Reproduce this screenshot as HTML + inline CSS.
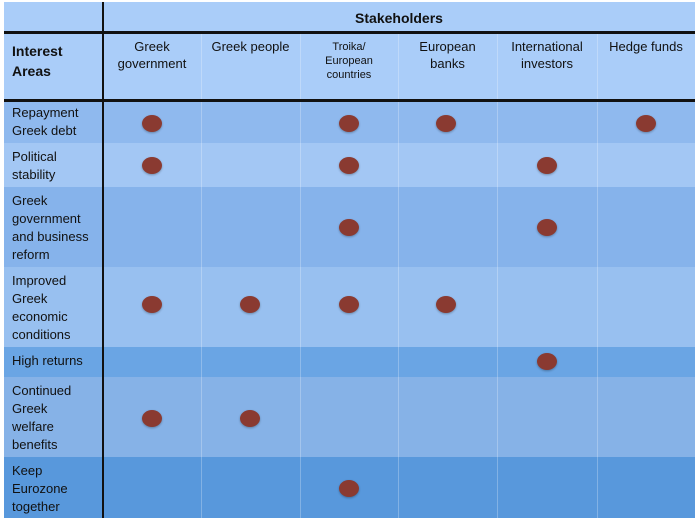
<!DOCTYPE html>
<html><head><meta charset="utf-8"><style>
body{margin:0;width:700px;height:525px;background:#fff;position:relative;overflow:hidden;font-family:"Liberation Sans",sans-serif;color:#111}
.r{position:absolute;left:4px;width:691px}
.t{position:absolute;font-size:13px;line-height:18px}
.h{position:absolute;font-size:13px;line-height:17px;text-align:center;top:38px}
.d{position:absolute;width:20px;height:17px;border-radius:50%;background:#8a3a31;box-shadow:0 1px 2px rgba(0,0,0,.3)}
.vl{position:absolute;top:32px;width:1px;height:486px;background:rgba(255,255,255,.25)}
</style></head><body>
<div class="r" style="top:2px;height:99px;background:#aacdf9"></div>
<div class="r" style="top:101px;height:42px;background:#8fb9ee"></div>
<div class="r" style="top:143px;height:44px;background:#a3c7f4"></div>
<div class="r" style="top:187px;height:80px;background:#86b3eb"></div>
<div class="r" style="top:267px;height:80px;background:#98c0f0"></div>
<div class="r" style="top:347px;height:30px;background:#6aa5e4"></div>
<div class="r" style="top:377px;height:80px;background:#86b2e7"></div>
<div class="r" style="top:457px;height:61px;background:#5898dc"></div>
<div class="vl" style="left:201px"></div><div class="vl" style="left:300px"></div><div class="vl" style="left:398px"></div><div class="vl" style="left:497px"></div><div class="vl" style="left:597px"></div>
<div style="position:absolute;left:4px;top:31px;width:691px;height:3px;background:#111"></div>
<div style="position:absolute;left:4px;top:99px;width:691px;height:3px;background:#111"></div>
<div style="position:absolute;left:102px;top:2px;width:2px;height:516px;background:#111"></div>
<div class="t" style="left:103px;width:592px;text-align:center;top:9px;font-size:14px;font-weight:bold">Stakeholders</div>
<div class="t" style="left:12px;top:41px;font-size:14px;line-height:20px;font-weight:bold">Interest<br>Areas</div>
<div class="h" style="left:103px;width:98px">Greek<br>government</div>
<div class="h" style="left:201px;width:99px">Greek people</div>
<div class="h" style="left:300px;width:98px;font-size:11px;line-height:14px;top:40px">Troika/<br>European<br>countries</div>
<div class="h" style="left:398px;width:99px">European<br>banks</div>
<div class="h" style="left:497px;width:100px">International<br>investors</div>
<div class="h" style="left:597px;width:98px">Hedge funds</div>
<div class="t" style="left:12px;top:104px">Repayment<br>Greek debt</div>
<div class="t" style="left:12px;top:148px">Political<br>stability</div>
<div class="t" style="left:12px;top:192px">Greek<br>government<br>and business<br>reform</div>
<div class="t" style="left:12px;top:272px">Improved<br>Greek<br>economic<br>conditions</div>
<div class="t" style="left:12px;top:352px">High returns</div>
<div class="t" style="left:12px;top:382px">Continued<br>Greek<br>welfare<br>benefits</div>
<div class="t" style="left:12px;top:462px">Keep<br>Eurozone<br>together</div>
<div class="d" style="left:142px;top:115px"></div><div class="d" style="left:339px;top:115px"></div><div class="d" style="left:436px;top:115px"></div><div class="d" style="left:636px;top:115px"></div>
<div class="d" style="left:142px;top:157px"></div><div class="d" style="left:339px;top:157px"></div><div class="d" style="left:537px;top:157px"></div>
<div class="d" style="left:339px;top:219px"></div><div class="d" style="left:537px;top:219px"></div>
<div class="d" style="left:142px;top:296px"></div><div class="d" style="left:240px;top:296px"></div><div class="d" style="left:339px;top:296px"></div><div class="d" style="left:436px;top:296px"></div>
<div class="d" style="left:537px;top:353px"></div>
<div class="d" style="left:142px;top:410px"></div><div class="d" style="left:240px;top:410px"></div>
<div class="d" style="left:339px;top:480px"></div>
</body></html>
